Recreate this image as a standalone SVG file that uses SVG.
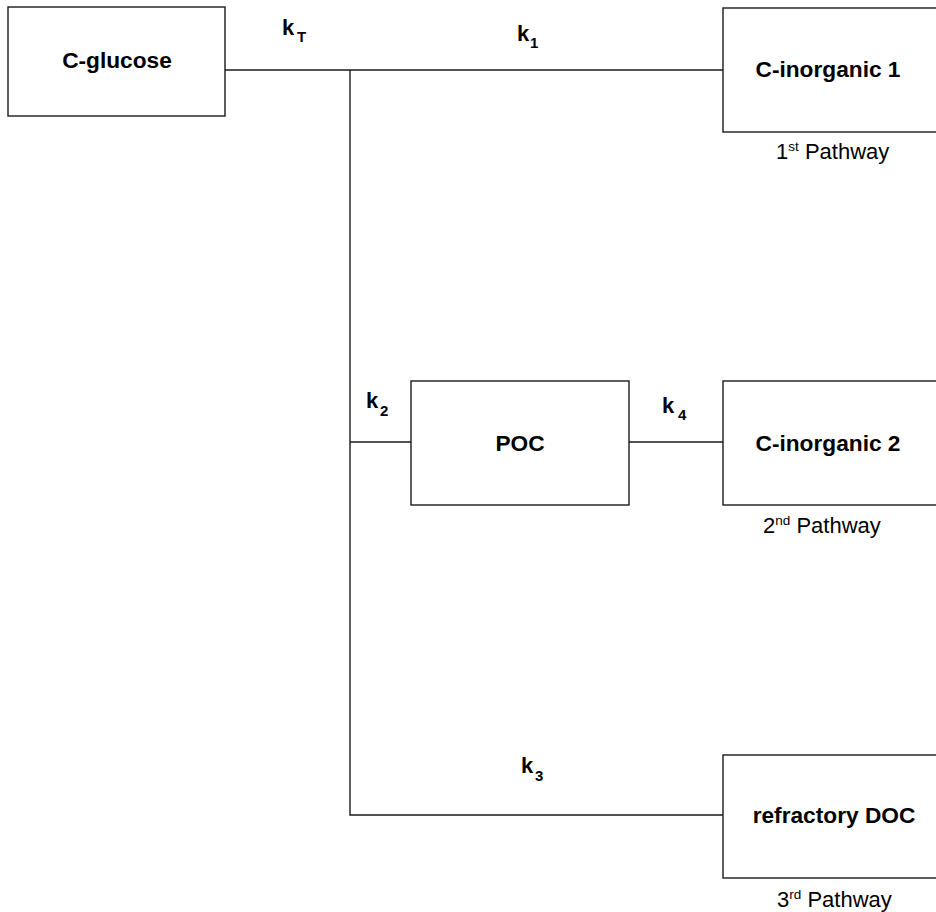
<svg xmlns="http://www.w3.org/2000/svg" width="936" height="912" viewBox="0 0 936 912">
<style>
.box{fill:#fff;stroke:#1a1a1a;stroke-width:1.4}
.ln{fill:none;stroke:#1a1a1a;stroke-width:1.4}
.lbl{font-family:"Liberation Sans",Arial,sans-serif;font-weight:bold;font-size:22.7px;fill:#000}
.k{font-family:"Liberation Sans",Arial,sans-serif;font-weight:bold;font-size:22px;fill:#000}
.sub{font-size:15px}
.pw{font-family:"Liberation Sans",Arial,sans-serif;font-size:22px;fill:#000}
.sup{font-size:13.5px}
</style>
<rect width="936" height="912" fill="#fff"/>
<g id="connectors">
<polyline class="ln" points="225,70 723,70"/>
<polyline class="ln" points="350,70 350,815 723,815"/>
<polyline class="ln" points="350,442 411,442"/>
<polyline class="ln" points="629,442 723,442"/>
<text class="k" x="282" y="35">k<tspan class="sub" x="297" y="42">T</tspan></text>
<text class="k" x="517" y="41">k<tspan class="sub" x="530" y="48">1</tspan></text>
<text class="k" x="366" y="408">k<tspan class="sub" x="380" y="416">2</tspan></text>
<text class="k" x="662" y="413">k<tspan class="sub" x="678" y="420">4</tspan></text>
<text class="k" x="521" y="773">k<tspan class="sub" x="535" y="781">3</tspan></text>
</g>
<g id="c-glucose">
<rect class="box" x="8" y="7" width="217" height="109"/>
<text class="lbl" x="117" y="68" text-anchor="middle">C-glucose</text>
</g>
<g id="c-inorganic-1">
<rect class="box" x="723" y="8" width="230" height="124"/>
<text class="lbl" x="828" y="77" text-anchor="middle">C-inorganic 1</text>
<text class="pw" x="776" y="159">1<tspan class="sup" dy="-8">st</tspan><tspan dy="8"> Pathway</tspan></text>
</g>
<g id="poc">
<rect class="box" x="411" y="381" width="218" height="124"/>
<text class="lbl" x="520" y="451" text-anchor="middle">POC</text>
</g>
<g id="c-inorganic-2">
<rect class="box" x="723" y="381" width="230" height="124"/>
<text class="lbl" x="828" y="451" text-anchor="middle">C-inorganic 2</text>
<text class="pw" x="763" y="533">2<tspan class="sup" dy="-8">nd</tspan><tspan dy="8"> Pathway</tspan></text>
</g>
<g id="refractory-doc">
<rect class="box" x="723" y="755" width="230" height="123"/>
<text class="lbl" x="834" y="823" text-anchor="middle">refractory DOC</text>
<text class="pw" x="777" y="907">3<tspan class="sup" dy="-8">rd</tspan><tspan dy="8"> Pathway</tspan></text>
</g>
</svg>
